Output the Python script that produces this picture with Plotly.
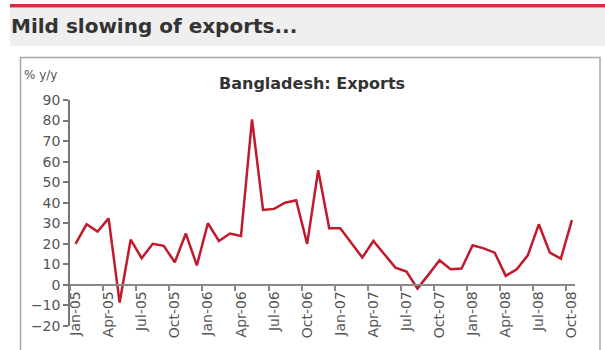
import plotly.graph_objects as go

months = ["Jan-05","Feb-05","Mar-05","Apr-05","May-05","Jun-05","Jul-05","Aug-05","Sep-05","Oct-05","Nov-05","Dec-05",
          "Jan-06","Feb-06","Mar-06","Apr-06","May-06","Jun-06","Jul-06","Aug-06","Sep-06","Oct-06","Nov-06","Dec-06",
          "Jan-07","Feb-07","Mar-07","Apr-07","May-07","Jun-07","Jul-07","Aug-07","Sep-07","Oct-07","Nov-07","Dec-07",
          "Jan-08","Feb-08","Mar-08","Apr-08","May-08","Jun-08","Jul-08","Aug-08","Sep-08","Oct-08"]
exports_yoy = [20, 29.5, 26, 32.4, -8.6, 22, 13, 20, 19, 11, 25, 9.5,
               30, 21.4, 25, 23.8, 80.6, 36.5, 37, 40, 41.2, 20, 55.8, 27.6,
               27.6, 20.6, 13.3, 21.4, 15, 8.4, 6.5, -1.8, 5, 12, 7.6, 8,
               19.3, 17.8, 15.7, 4.4, 7.6, 14.4, 29.5, 15.7, 12.8, 31.5]
tick_labels = months[::3]
y_ticks = list(range(-20, 100, 10))

idx = list(range(len(months)))
label_pos = idx[::3]
tick_pos = [p - 0.5 for p in label_pos]

# plot area in pixels
L, R, T, B = 70, 30, 100, 24
W, H = 605, 350
PW, PH = W - L - R, H - T - B

def px(x):
    return (x - L) / PW

def py(y):
    return (H - B - y) / PH

fig = go.Figure()
fig.add_trace(go.Scatter(x=idx, y=exports_yoy, mode="lines",
                         line=dict(color="#c01a2c", width=2.5), hoverinfo="skip"))

axis_font = dict(family="DejaVu Sans", size=14, color="#555")
fig.update_layout(
    width=W, height=H,
    margin=dict(l=L, r=R, t=T, b=B),
    paper_bgcolor="white", plot_bgcolor="white",
    showlegend=False,
    xaxis=dict(range=[-0.5, 45.28], anchor="free", position=20 / 110,
               showline=True, linecolor="#888", linewidth=1.5,
               showgrid=False, zeroline=False,
               tickvals=label_pos, ticktext=tick_labels, tickangle=-90,
               ticks="", tickfont=axis_font,
               minor=dict(tickvals=tick_pos, ticks="outside", ticklen=5,
                          tickcolor="#888", tickwidth=1.5, showgrid=False)),
    yaxis=dict(range=[-20, 90], tickvals=y_ticks, showline=True,
               linecolor="#777", linewidth=1.5, ticks="outside", ticklen=5,
               tickcolor="#777", tickwidth=1.5, showgrid=False, zeroline=False,
               tickfont=axis_font),
    shapes=[
        dict(type="rect", xref="paper", yref="paper", x0=px(10), x1=px(606),
             y0=py(8), y1=py(46), fillcolor="#efefef", line=dict(width=0), layer="below"),
        dict(type="rect", xref="paper", yref="paper", x0=px(10), x1=px(606),
             y0=py(4), y1=py(7.5), fillcolor="#cf3040", line=dict(width=0), layer="below"),
        dict(type="rect", xref="paper", yref="paper", x0=px(20.5), x1=px(600),
             y0=py(57.5), y1=py(370), fillcolor="rgba(0,0,0,0)",
             line=dict(color="#a8a8a8", width=1.5), layer="below"),
    ],
    annotations=[
        dict(text="Mild slowing of exports...", xref="paper", yref="paper",
             x=px(9), y=py(26), xanchor="left", yanchor="middle", showarrow=False,
             font=dict(family="DejaVu Sans", size=20, color="#333", weight="bold")),
        dict(text="Bangladesh: Exports", xref="paper", yref="paper",
             x=px(312), y=py(84), xanchor="center", yanchor="middle", showarrow=False,
             font=dict(family="DejaVu Sans", size=16, color="#333", weight="bold")),
        dict(text="% y/y", xref="paper", yref="paper",
             x=px(22), y=py(75), xanchor="left", yanchor="middle", showarrow=False,
             font=dict(family="DejaVu Sans", size=12, color="#555")),
    ],
)

fig.write_html("out.html")
